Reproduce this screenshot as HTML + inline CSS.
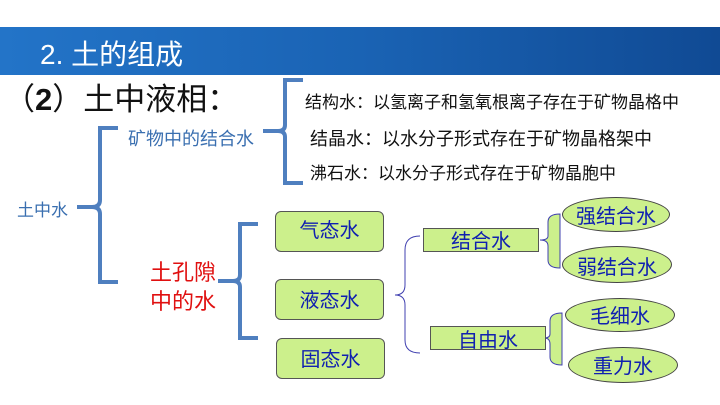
<!DOCTYPE html>
<html><head><meta charset="utf-8"><style>
body{margin:0;width:720px;height:405px;overflow:hidden;background:#fff;font-family:"Liberation Sans","Noto Sans CJK SC",sans-serif;position:relative}
.a{position:absolute;white-space:nowrap}
.box{position:absolute;background:#ccf08c;border:1px solid #555;border-radius:6px;color:#1020b0;font-size:20px;text-align:center}
.rb{position:absolute;background:#ccf08c;border:1px solid #555;color:#1020b0;font-size:20px;text-align:center}
.el{position:absolute;background:#ccf08c;border:1px solid #444;border-radius:50%;color:#1020b0;font-size:20px;text-align:center}
</style></head><body>
<div style="position:absolute;left:0;top:27px;width:720px;height:48px;background:linear-gradient(90deg,#2374c8,#1a63b4 50%,#104a94)"></div>
<div class="a" style="left:40px;top:33px;font-size:28px;color:#fff">2. 土的组成</div>
<div class="a" style="left:4px;top:74px;font-size:31px;color:#111">（<b>2</b>）土中液相：</div>
<svg width="720" height="405" style="position:absolute;left:0;top:0">
<g fill="none" stroke="#4f7fbf" stroke-width="4">
<path d="M118 128 H100 V200 Q100 207 92 207 H77 M92 207 Q100 207 100 214 V282 H118"/>
<path d="M303 80 H285 V125 Q285 131 278 131 H263 M278 131 Q285 131 285 137 V183 H303"/>
<path d="M258 224 H240 V275 Q240 281 233 281 H218 M233 281 Q240 281 240 287 V338 H258"/>
</g>
<g fill="none" stroke="#4040b0" stroke-width="1">
<path d="M420 236 Q405 236 405 250 V285 Q405 295 395 295 Q405 295 405 305 V340 Q405 353 420 353"/>
</g>
<path d="M560 214 Q548 214 548 222 V236 Q548 240 540 240 Q548 240 548 246 V260 Q548 268 560 268 Z" fill="#ccf08c" stroke="#4040b0"/>
<path d="M562 313 Q550 313 550 321 V334 Q550 338 544 338 Q550 338 550 344 V357 Q550 365 562 365 Z" fill="#ccf08c" stroke="#4040b0"/>
</svg>
<div class="a" style="left:17px;top:196px;font-size:17px;color:#3a6fb0">土中水</div>
<div class="a" style="left:128px;top:125px;font-size:18px;color:#3a6fb0">矿物中的结合水</div>
<div class="a" style="left:305px;top:88px;font-size:17px;color:#111">结构水：以氢离子和氢氧根离子存在于矿物晶格中</div>
<div class="a" style="left:310px;top:125px;font-size:18px;color:#111">结晶水：以水分子形式存在于矿物晶格架中</div>
<div class="a" style="left:310px;top:159px;font-size:17px;color:#111">沸石水：以水分子形式存在于矿物晶胞中</div>
<div class="a" style="left:150px;top:258px;font-size:22px;line-height:29px;color:#e01010">土孔隙<br>中的水</div>
<div class="box" style="left:275px;top:211px;width:107px;height:39px;line-height:39px">气态水</div>
<div class="box" style="left:275px;top:279px;width:107px;height:39px;line-height:42px">液态水</div>
<div class="box" style="left:276px;top:338px;width:107px;height:39px;line-height:42px">固态水</div>
<div class="rb" style="left:423px;top:228px;width:114px;height:22px;line-height:26px">结合水</div>
<div class="rb" style="left:430px;top:326px;width:114px;height:22px;line-height:28px">自由水</div>
<div class="el" style="left:562px;top:197px;width:106px;height:33px;line-height:38px">强结合水</div>
<div class="el" style="left:562px;top:246px;width:108px;height:35px;line-height:42px">弱结合水</div>
<div class="el" style="left:565px;top:298px;width:108px;height:32px;line-height:36px">毛细水</div>
<div class="el" style="left:568px;top:347px;width:108px;height:34px;line-height:38px">重力水</div>
</body></html>
